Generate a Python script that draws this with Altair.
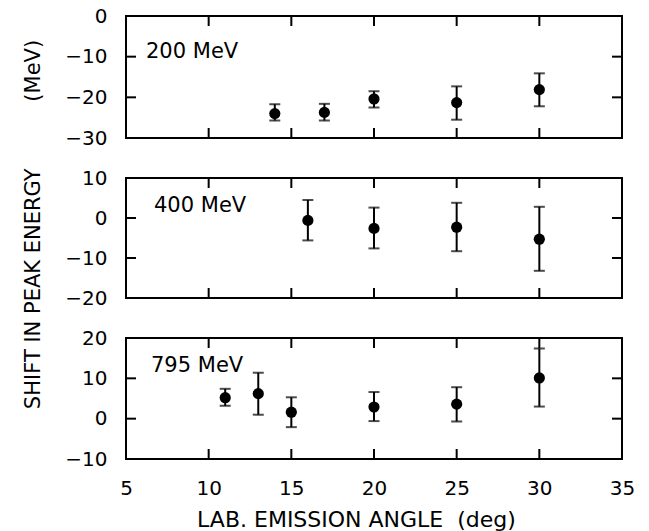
import altair as alt
import pandas as pd

# ---- data ----
ANGLE_200 = [14.0, 17.0, 20, 25, 30]
SHIFT_200 = [-24.0, -23.7, -20.4, -21.3, -18.1]
LO_200 = [-25.7, -25.7, -22.5, -25.5, -22.2]
HI_200 = [-21.7, -21.6, -18.5, -17.3, -14.1]

ANGLE_400 = [16, 20, 25, 30]
SHIFT_400 = [-0.6, -2.6, -2.3, -5.3]
LO_400 = [-5.6, -7.6, -8.3, -13.2]
HI_400 = [4.5, 2.6, 3.8, 2.8]

ANGLE_795 = [11, 13, 15, 20, 25, 30]
SHIFT_795 = [5.2, 6.2, 1.6, 2.9, 3.6, 10.1]
LO_795 = [3.2, 1.0, -2.1, -0.6, -0.7, 3.0]
HI_795 = [7.4, 11.4, 5.3, 6.6, 7.8, 17.4]

PANEL_LABELS = ["200 MeV", "400 MeV", "795 MeV"]
X_DOMAIN = [5, 35]
X_LABELS = [5, 10, 15, 20, 25, 30, 35]
X_TICKS_INNER = [10, 15, 20, 25, 30]
Y_DOMAINS = [[-30, 0], [-20, 10], [-10, 20]]
Y_LABELS = [[0, -10, -20, -30], [10, 0, -10, -20], [20, 10, 0, -10]]
Y_TICKS_INNER = [[-10, -20], [0, -10], [10, 0]]

Y_TITLE = "SHIFT IN PEAK ENERGY" + "\u00a0" * 10 + "(MeV)"
X_TITLE = "LAB. EMISSION ANGLE\u00a0\u00a0(deg)"

W = 496
HEIGHTS = [122, 120, 121]
LABEL_POS = [(20, 42), (28, 34), (25, 34)]
TICK_LEN = 10
LW = 2
FONT = "DejaVu Sans"


def panel(i, angle, shift, lo, hi):
    H = HEIGHTS[i]
    xscale = alt.Scale(domain=X_DOMAIN, nice=False, zero=False)
    yscale = alt.Scale(domain=Y_DOMAINS[i], nice=False, zero=False)
    df = pd.DataFrame({"angle": angle, "shift": shift, "lo": lo, "hi": hi})
    base = alt.Chart(df)

    yaxis = alt.Axis(values=Y_LABELS[i], tickSize=0, domain=False, grid=False,
                     labelFont=FONT, labelFontSize=20, labelColor="black",
                     labelPadding=19, labelOverlap=False,
                     title=Y_TITLE if i == 1 else "",
                     titleFont=FONT, titleFontSize=21,
                     titleFontWeight="normal", titleColor="black",
                     titleAngle=270, titleX=-93, titleY=46,
                     titleAlign="center", titleBaseline="middle")
    if i == 2:
        xaxis = alt.Axis(values=X_LABELS, tickSize=0, domain=False, grid=False,
                         labelFlush=False, labelFont=FONT,
                         labelFontSize=20, labelColor="black", labelPadding=19,
                         title=X_TITLE, titleFont=FONT,
                         titleFontSize=22, titleFontWeight="normal",
                         titleColor="black", titleX=230, titleY=67,
                         titleAlign="center", titleBaseline="alphabetic")
    else:
        xaxis = None

    def X(field):
        return alt.X(field, type="quantitative", scale=xscale, axis=xaxis)

    def Y(field):
        return alt.Y(field, type="quantitative", scale=yscale, axis=yaxis)

    points = base.mark_circle(size=125, color="black", opacity=1).encode(
        x=X("angle"), y=Y("shift"))
    bars = base.mark_rule(color="black", strokeWidth=LW).encode(
        x=X("angle"), y=Y("lo"), y2="hi:Q")
    cap_lo = base.mark_tick(orient="horizontal", size=11, thickness=LW,
                            color="black").encode(x=X("angle"), y=Y("lo"))
    cap_hi = base.mark_tick(orient="horizontal", size=11, thickness=LW,
                            color="black").encode(x=X("angle"), y=Y("hi"))

    xt = alt.Chart(pd.DataFrame({"t": X_TICKS_INNER}))
    top_ticks = xt.mark_rule(color="black", strokeWidth=LW).encode(
        x=X("t"), y=alt.value(0), y2=alt.value(TICK_LEN))
    bot_ticks = xt.mark_rule(color="black", strokeWidth=LW).encode(
        x=X("t"), y=alt.value(H), y2=alt.value(H - TICK_LEN))

    yt = alt.Chart(pd.DataFrame({"v": Y_TICKS_INNER[i]}))
    left_ticks = yt.mark_rule(color="black", strokeWidth=LW).encode(
        y=Y("v"), x=alt.value(0), x2=alt.value(TICK_LEN))
    right_ticks = yt.mark_rule(color="black", strokeWidth=LW).encode(
        y=Y("v"), x=alt.value(W), x2=alt.value(W - TICK_LEN))

    lx, ly = LABEL_POS[i]
    label = alt.Chart(pd.DataFrame({"label": [PANEL_LABELS[i]]})).mark_text(
        align="left", baseline="alphabetic", font=FONT, fontSize=21,
        color="black").encode(text="label:N", x=alt.value(lx), y=alt.value(ly))

    return alt.layer(points, bars, cap_lo, cap_hi, top_ticks, bot_ticks,
                     left_ticks, right_ticks, label).properties(width=W, height=H)


chart = alt.vconcat(
    panel(0, ANGLE_200, SHIFT_200, LO_200, HI_200),
    panel(1, ANGLE_400, SHIFT_400, LO_400, HI_400),
    panel(2, ANGLE_795, SHIFT_795, LO_795, HI_795),
    spacing=40,
    bounds="flush",
).properties(
    padding={"left": 20, "top": 5, "right": 5, "bottom": 5},
    background="white",
).configure_view(stroke="black", strokeWidth=LW)

chart.save("out.html", embed_options={"renderer": "svg", "actions": False})
